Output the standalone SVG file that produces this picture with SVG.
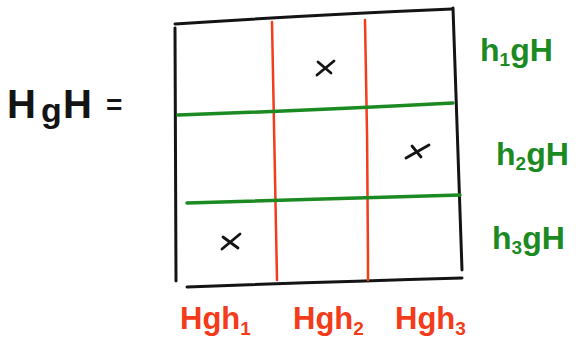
<svg xmlns="http://www.w3.org/2000/svg" width="576" height="359" viewBox="0 0 576 359">
<style>
.k{stroke:#141414;stroke-width:3;fill:none;stroke-linecap:round}
.r{stroke:#f23c1a;stroke-width:2.5;fill:none;stroke-linecap:round}
.g{stroke:#1c8a22;stroke-width:3.5;fill:none;stroke-linecap:round}
.x{stroke:#141414;stroke-width:2.8;fill:none;stroke-linecap:round}
text{font-family:"Liberation Sans","DejaVu Sans",sans-serif;font-weight:bold}
.tk{fill:#141414;font-size:40px}
.tg{fill:#1c8a22;font-size:32px}
.tr{fill:#f23c1a;font-size:31px}
</style>
<rect width="576" height="359" fill="#ffffff"/>
<g id="box">
<path class="k" d="M175 24 Q310 15 452 9"/>
<path class="k" d="M175 28 Q176 150 176 281"/>
<path class="k" d="M453 8 Q458 140 462 270"/>
<path class="k" d="M187 287 Q320 282 462 278"/>
</g>
<g id="cosets-right">
<path class="r" d="M272 22 Q275 150 277 280"/>
<path class="r" d="M365 20 Q368 150 368 280"/>
</g>
<g id="cosets-left">
<path class="g" d="M178 115 Q320 110 453 103"/>
<path class="g" d="M187 203 Q320 199 460 195"/>
</g>
<g id="marks">
<path class="x" d="M317 75 L334 61 M318 62 L331 73"/>
<path class="x" d="M406 158 L429 145 M412 146 L421 157"/>
<path class="x" d="M222 249 L240 234 M223 237 L238 248"/>
</g>
<g id="labels">
<text class="tk" x="7" y="118">H<tspan x="41" dy="4" font-size="34">g</tspan><tspan x="63" dy="-4">H</tspan><tspan x="106" font-size="28" dy="-4">=</tspan></text>
<text class="tg" x="480" y="61">h<tspan font-size="19" dy="5">1</tspan><tspan dy="-5">gH</tspan></text>
<text class="tg" x="496" y="165">h<tspan font-size="19" dy="5">2</tspan><tspan dy="-5">gH</tspan></text>
<text class="tg" x="492" y="249">h<tspan font-size="19" dy="5">3</tspan><tspan dy="-5">gH</tspan></text>
<text class="tr" x="180" y="329">Hgh<tspan font-size="19" dy="6">1</tspan></text>
<text class="tr" x="293" y="329">Hgh<tspan font-size="19" dy="6">2</tspan></text>
<text class="tr" x="395" y="329">Hgh<tspan font-size="19" dy="6">3</tspan></text>
</g>
</svg>
